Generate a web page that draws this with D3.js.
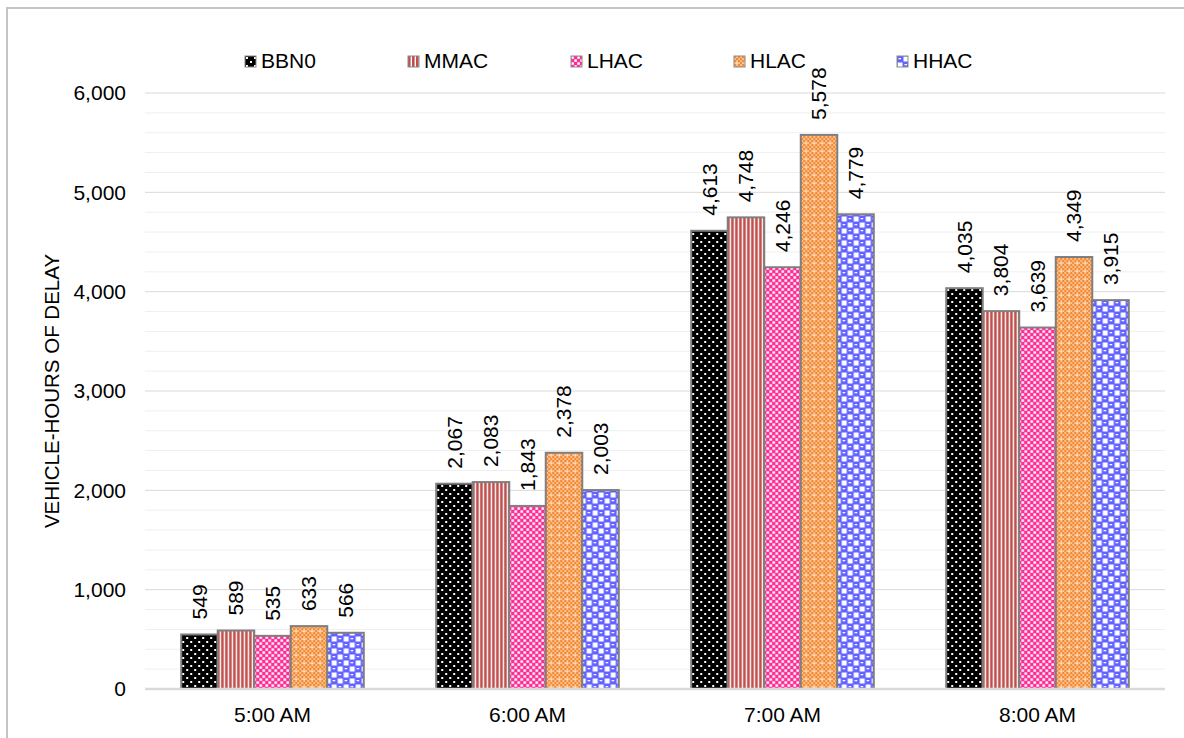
<!DOCTYPE html>
<html><head><meta charset="utf-8">
<script src="https://cdn.jsdelivr.net/npm/d3@7"></script>
<style>body{margin:0;background:#fff}svg{display:block}text{font-family:"Liberation Sans",Arial,sans-serif}</style>
</head><body>
<svg id="c" width="1184" height="738"></svg>
<script>
const categories = ["5:00 AM","6:00 AM","7:00 AM","8:00 AM"];
const seriesNames = ["BBN0","MMAC","LHAC","HLAC","HHAC"];
const BBN0 = [549, 2067, 4613, 4035];
const MMAC = [589, 2083, 4748, 3804];
const LHAC = [535, 1843, 4246, 3639];
const HLAC = [633, 2378, 5578, 4349];
const HHAC = [566, 2003, 4779, 3915];
const yTicks = [0,1000,2000,3000,4000,5000,6000];
const values = {BBN0, MMAC, LHAC, HLAC, HHAC};

const svg = d3.select("#c");
const defs = svg.append("defs");
function pat(id,w,h,fn){const p=defs.append("pattern").attr("id",id).attr("patternUnits","userSpaceOnUse").attr("width",w).attr("height",h);fn(p);}
pat("p0",8,8,p=>{p.append("rect").attr("width",8).attr("height",8).attr("fill","#000");
  [[1,1],[5,5]].forEach(d=>p.append("rect").attr("x",d[0]).attr("y",d[1]).attr("width",2).attr("height",2).attr("fill","#fff"));});
pat("p1",4,4,p=>{p.append("rect").attr("width",4).attr("height",4).attr("fill","#fff");
  p.append("rect").attr("width",2.6).attr("height",4).attr("fill","#c0504d");});
pat("p2",6,6,p=>{p.append("rect").attr("width",6).attr("height",6).attr("fill","#ff2e96");
  p.append("rect").attr("x",0.3).attr("y",0.3).attr("width",2.5).attr("height",2.5).attr("fill","#fff");
  p.append("rect").attr("x",3.3).attr("y",3.3).attr("width",2.5).attr("height",2.5).attr("fill","#fff");});
pat("p3",8,8,p=>{p.append("rect").attr("width",8).attr("height",8).attr("fill","#fbc89a");
  [[0,0],[4,0],[2,2],[6,2],[0,4],[4,4],[2,6],[6,6]].forEach(d=>p.append("rect").attr("x",d[0]).attr("y",d[1]).attr("width",2.2).attr("height",2.2).attr("fill","#f58a35"));
  p.append("rect").attr("x",2.2).attr("y",6.2).attr("width",1.6).attr("height",1.6).attr("fill","#fff");});
pat("p4",12,12,p=>{p.append("rect").attr("width",12).attr("height",12).attr("fill","#6262ff");
  [[6.5,0.5],[0.5,6.5]].forEach(d=>p.append("rect").attr("x",d[0]).attr("y",d[1]).attr("width",5).attr("height",5).attr("fill","#fff"));
  [[0,0],[6,6]].forEach(d=>p.append("rect").attr("x",d[0]+1.5).attr("y",d[1]+2).attr("width",2.5).attr("height",1.3).attr("fill","#fff"));});
const fills = {BBN0:"url(#p0)",MMAC:"url(#p1)",LHAC:"url(#p2)",HLAC:"url(#p3)",HHAC:"url(#p4)"};

svg.append("rect").attr("x",7).attr("y",8).attr("width",1200).attr("height",760).attr("fill","none").attr("stroke","#c4c4c4").attr("stroke-width",2);

const x0 = d3.scaleBand().domain(categories).range([145,1165]).paddingInner(0.284).paddingOuter(0.142);
const x1 = d3.scaleBand().domain(seriesNames).range([0,x0.bandwidth()]);
const y = d3.scaleLinear().domain([0,6000]).range([689,93]);

const minor = d3.range(200,6000,200).filter(v=>v%1000!==0);
svg.append("g").selectAll("line").data(minor).join("line")
  .attr("x1",145).attr("x2",1165).attr("y1",d=>y(d)).attr("y2",d=>y(d)).attr("stroke","#efefef").attr("stroke-width",1);
svg.append("g").selectAll("line").data(yTicks.slice(1)).join("line")
  .attr("x1",145).attr("x2",1165).attr("y1",d=>y(d)).attr("y2",d=>y(d)).attr("stroke","#d9d9d9").attr("stroke-width",1);

const yAxis = d3.axisLeft(y).tickValues(yTicks).tickFormat(d3.format(",")).tickSize(0).tickPadding(0);
const ya = svg.append("g").attr("transform","translate(126,0)").call(yAxis);
ya.select(".domain").remove();
ya.selectAll("text").attr("font-size","21px").attr("fill","#000").attr("font-family","Liberation Sans, Arial, sans-serif");

const groups = svg.append("g").selectAll("g").data(categories).join("g").attr("transform",d=>`translate(${x0(d)},0)`);
groups.each(function(cat,ci){
  const g=d3.select(this);
  const data = seriesNames.map(s=>({s,v:values[s][ci]}));
  g.selectAll("rect").data(data).join("rect")
    .attr("x",d=>x1(d.s)).attr("width",x1.bandwidth())
    .attr("y",d=>y(d.v)).attr("height",d=>y(0)-y(d.v))
    .attr("fill",d=>fills[d.s]).attr("stroke","#7f7f7f").attr("stroke-width",2);
  g.selectAll("text").data(data).join("text")
    .attr("transform",d=>`translate(${x1(d.s)+x1.bandwidth()/2},${y(d.v)-15}) rotate(-90)`)
    .attr("dy","0.35em").attr("text-anchor","start").attr("font-size","21px").attr("fill","#000")
    .text(d=>d3.format(",")(d.v));
});

svg.append("line").attr("x1",145).attr("x2",1165).attr("y1",y(0)).attr("y2",y(0)).attr("stroke","#d9d9d9").attr("stroke-width",2.5);
const xAxis = d3.axisBottom(x0).tickSize(0).tickPadding(0);
const xa = svg.append("g").attr("transform","translate(0,705)").call(xAxis);
xa.select(".domain").remove();
xa.selectAll("text").attr("font-size","21px").attr("fill","#000").attr("font-family","Liberation Sans, Arial, sans-serif").attr("dy","0.8em");

svg.append("text").attr("transform","translate(52,391) rotate(-90)").attr("text-anchor","middle").attr("dy","0.35em")
  .attr("font-size","20.5px").attr("fill","#000").text("VEHICLE-HOURS OF DELAY");

const lg = svg.append("g").selectAll("g").data(seriesNames).join("g").attr("transform",(d,i)=>`translate(${245+i*163},56)`);
lg.append("rect").attr("width",11).attr("height",11).attr("fill",d=>fills[d]).attr("stroke","#8a8a8a").attr("stroke-width",1);
lg.append("text").attr("x",16).attr("y",12).attr("font-size","21px").attr("fill","#000").text(d=>d);
</script>
</body></html>
